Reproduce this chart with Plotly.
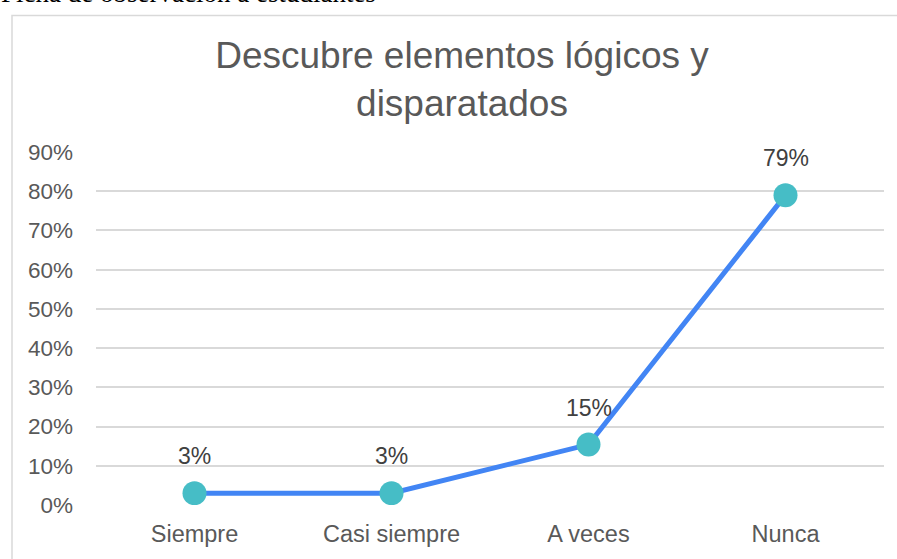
import plotly.graph_objects as go

categories = ["Siempre", "Casi siempre", "A veces", "Nunca"]
values = [0.03, 0.03, 0.154, 0.79]
labels = ["3%", "3%", "15%", "79%"]
tick_vals = [0, 0.1, 0.2, 0.3, 0.4, 0.5, 0.6, 0.7, 0.8, 0.9]
tick_text = ["0%", "10%", "20%", "30%", "40%", "50%", "60%", "70%", "80%", "90%"]

W, H = 897, 559
L, R, T, B = 96, 13, 152, 50
pw = W - L - R
ph = H - T - B

def px2x(px):
    return (px - L) / pw

def py2y(py):
    return (H - B - py) / ph

fig = go.Figure()
fig.add_trace(go.Scatter(
    x=categories, y=values, mode="lines+markers",
    line=dict(color="#4285F4", width=5),
    marker=dict(color="#46BDC6", size=24),
    hoverinfo="skip", showlegend=False,
))

for c, v, t in zip(categories, values, labels):
    fig.add_annotation(x=c, y=v, text=t, showarrow=False, yshift=37,
                       font=dict(family="Liberation Sans, Arial", size=23, color="#404040"))

fig.add_annotation(xref="paper", yref="paper", x=px2x(-1), y=py2y(8),
                   xanchor="left", yanchor="bottom", showarrow=False,
                   text="Ficha de observación a estudiantes",
                   font=dict(family="Liberation Serif, Times New Roman", size=27, color="#000000"))

fig.add_shape(type="rect", xref="paper", yref="paper",
              x0=px2x(12), x1=px2x(912), y0=py2y(600), y1=py2y(14),
              line=dict(color="#D9D9D9", width=1.5), fillcolor="rgba(0,0,0,0)", layer="below")

fig.update_layout(
    width=W, height=H,
    margin=dict(l=L, r=R, t=T, b=B),
    paper_bgcolor="white", plot_bgcolor="white",
    title=dict(text="Descubre elementos lógicos y<br>disparatados",
               x=462 / W, xref="container", xanchor="center",
               y=1 - 68 / H, yref="container", yanchor="middle",
               font=dict(family="Liberation Sans, Arial", size=37, color="#595959")),
    xaxis=dict(type="category", range=[-0.5, 3.5], showgrid=False, zeroline=False,
               showline=False, ticks="", ticklabelstandoff=12,
               tickfont=dict(family="Liberation Sans, Arial", size=23.5, color="#595959")),
    yaxis=dict(range=[0, 0.9], tickvals=tick_vals, ticktext=tick_text,
               showgrid=True, gridcolor="#D9D9D9", gridwidth=1.5,
               zeroline=False, showline=False, ticks="", ticklabelstandoff=22,
               tickfont=dict(family="Liberation Sans, Arial", size=22.5, color="#595959")),
)

fig.write_html("out.html", config={"displayModeBar": False},
               post_script="document.body.style.margin='0';document.body.style.overflow='hidden';")
